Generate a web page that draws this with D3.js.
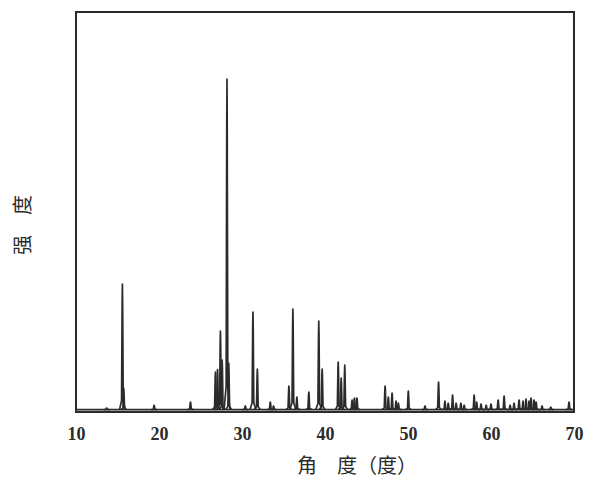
<!DOCTYPE html>
<html>
<head>
<meta charset="utf-8">
<script src="https://cdn.jsdelivr.net/npm/d3@7"></script>
<style>
  body { margin: 0; background: #fff; }
  svg { display: block; }
</style>
</head>
<body>
<svg></svg>
<script>
const xTicks = [10, 20, 30, 40, 50, 60, 70];

// peak positions (2θ, degrees) and heights above baseline (arbitrary counts)
const peakAngles = [13.7, 15.59, 15.75, 19.41, 23.79, 26.80, 27.05, 27.40, 27.61, 28.19,
  28.40, 30.40, 31.32, 31.85, 33.41, 33.80, 35.65, 36.13, 36.61, 38.05,
  39.25, 39.66, 41.59, 41.95, 42.38, 43.27, 43.55, 43.85, 47.24, 47.63,
  48.08, 48.56, 48.84, 50.04, 52.05, 53.68, 54.45, 54.85, 55.37, 55.80,
  56.37, 56.77, 57.97, 58.27, 58.80, 59.42, 60.00, 60.86, 61.58, 62.30,
  62.78, 63.38, 63.86, 64.22, 64.59, 64.83, 65.19, 65.43, 66.15, 67.20, 69.40];
const peakHeights = [4, 314, 53, 11, 19, 94, 100, 196, 124, 826,
  116, 9, 244, 101, 19, 9, 59, 251, 31, 44,
  221, 101, 119, 79, 111, 24, 29, 29, 59, 31,
  41, 21, 16, 46, 9, 69, 21, 16, 36, 16,
  16, 11, 36, 19, 14, 11, 14, 24, 34, 11,
  16, 24, 21, 26, 21, 29, 24, 19, 9, 6, 19];
const baseline = 6;

const svg = d3.select("svg");
const width = 595;
const height = 491;
svg.attr("width", width).attr("height", height);

const plotLeft = 76, plotRight = 574, plotTop = 12, plotBottom = 412;

const x = d3.scaleLinear().domain([10, 70]).range([plotLeft, plotRight]);
const y = d3.scaleLinear().domain([0, 1000]).range([plotBottom, plotTop]);

const ink = "#2b2b2b";

// baseline
svg.append("line")
  .attr("x1", x(10)).attr("x2", x(70))
  .attr("y1", y(baseline)).attr("y2", y(baseline))
  .attr("stroke", ink)
  .attr("stroke-width", 1.6);

// peaks
const line = d3.line()
  .x(d => x(d[0]))
  .y(d => y(d[1]));

const peaks = peakAngles.map((a, i) => ({ a: a, h: peakHeights[i] }));

svg.selectAll(".peak")
  .data(peaks)
  .enter()
  .append("path")
  .attr("class", "peak")
  .attr("fill", "none")
  .attr("stroke", ink)
  .attr("stroke-width", 1.7)
  .attr("stroke-linejoin", "round")
  .attr("d", function (d) {
    return line([
      [d.a - 0.35, baseline],
      [d.a - 0.1, baseline + d.h * 0.07],
      [d.a - 0.03, baseline + d.h * 0.85],
      [d.a, baseline + d.h],
      [d.a + 0.03, baseline + d.h * 0.85],
      [d.a + 0.1, baseline + d.h * 0.07],
      [d.a + 0.35, baseline]
    ]);
  });

// frame
svg.append("rect")
  .attr("x", plotLeft).attr("y", plotTop)
  .attr("width", plotRight - plotLeft).attr("height", plotBottom - plotTop)
  .attr("fill", "none")
  .attr("stroke", ink)
  .attr("stroke-width", 2);

// x tick labels
const xAxis = d3.axisBottom(x).tickValues(xTicks).tickSize(0).tickPadding(15);
const gx = svg.append("g")
  .attr("transform", `translate(0,${plotBottom})`)
  .call(xAxis);
gx.select(".domain").remove();
gx.selectAll("text")
  .attr("fill", ink)
  .style("font-family", "'Liberation Serif', serif")
  .style("font-size", "18px")
  .style("font-weight", "bold");

// axis titles
svg.append("text")
  .attr("x", 357)
  .attr("y", 473)
  .attr("text-anchor", "middle")
  .attr("fill", ink)
  .style("font-family", "'Noto Sans CJK SC', sans-serif")
  .style("font-size", "20px")
  .text("角\u2003度（度）");

svg.append("text")
  .attr("transform", "translate(30,225) rotate(-90)")
  .attr("text-anchor", "middle")
  .attr("fill", ink)
  .style("font-family", "'Noto Sans CJK SC', sans-serif")
  .style("font-size", "20px")
  .text("强\u2003度");
</script>
</body>
</html>
